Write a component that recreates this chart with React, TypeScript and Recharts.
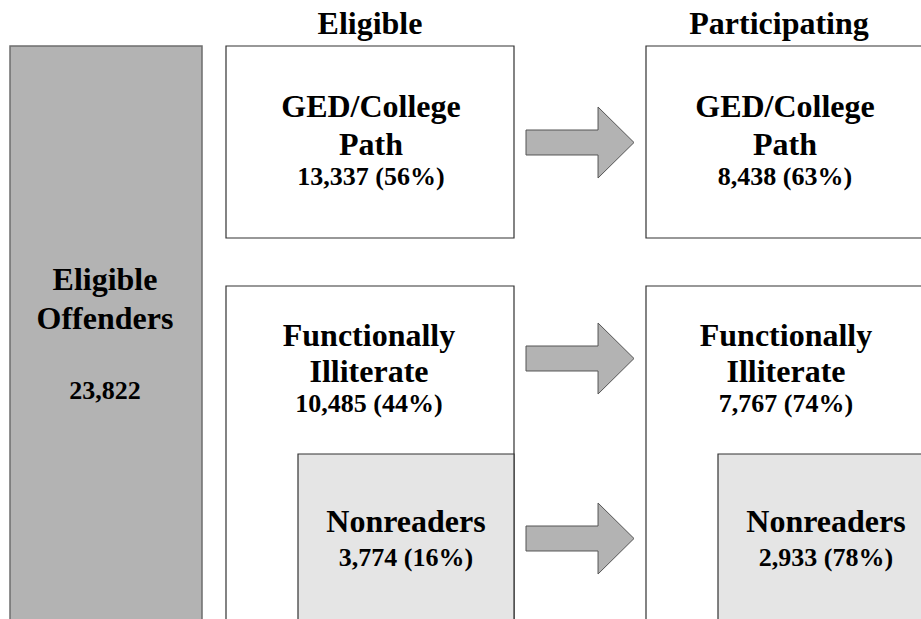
import { ComposedChart, XAxis, YAxis, ReferenceArea, Scatter } from 'recharts';

const W = 921;
const H = 619;

// values shown in the diagram
const stages = ['Eligible', 'Participating'];
const totalTitle = ['Eligible', 'Offenders'];
const totalOffenders = 23822;
const groupTitles = [['GED/College', 'Path'], ['Functionally', 'Illiterate'], ['Nonreaders']];
const eligibleCounts = [13337, 10485, 3774];
const eligibleShares = [56, 44, 16];
const participatingCounts = [8438, 7767, 2933];
const participatingShares = [63, 74, 78];

// layout, in diagram units (1 unit = 1px, y grows downward)
const totalBox = { x1: 10, x2: 202, y1: 46, y2: 660 };
const columnX = [[226, 514], [646, 940]];
const groupY = [[46, 238], [286, 660], [454, 660]];
const nonreaderInset = 72;
const arrowX = [526, 634];
const arrowY = [[107, 178], [323, 394], [503, 574]];
const headerY = 23;
const headerX = [370, 779];
const groupCenterX = [[371, 785], [369, 786], [406, 826]];
const titleRowsY = [[106, 143.5], [335, 371], [521]];
const numberRowY = [176.5, 403, 557];
const totalTextX = 105;
const totalTextY = [279, 317.5, 390.5];
const titleSize = 32;
const numberSize = 26;

const fmt = (n: number) => n.toLocaleString('en-US');

type TextItem = { x: number; y: number; text: string; size: number };

const texts: TextItem[] = [];
stages.forEach((s, i) => texts.push({ x: headerX[i], y: headerY, text: s, size: titleSize }));
totalTitle.forEach((t, i) => texts.push({ x: totalTextX, y: totalTextY[i], text: t, size: titleSize }));
texts.push({ x: totalTextX, y: totalTextY[2], text: fmt(totalOffenders), size: numberSize });
[
  [eligibleCounts, eligibleShares],
  [participatingCounts, participatingShares],
].forEach(([counts, shares], c) => {
  groupTitles.forEach((lines, g) => {
    lines.forEach((t, k) => texts.push({ x: groupCenterX[g][c], y: titleRowsY[g][k], text: t, size: titleSize }));
    texts.push({ x: groupCenterX[g][c], y: numberRowY[g], text: `${fmt(counts[g])} (${shares[g]}%)`, size: numberSize });
  });
});

const boxes = columnX.flatMap(([x1, x2]) =>
  groupY.map(([y1, y2], g) => ({
    x1: g === 2 ? x1 + nonreaderInset : x1,
    x2,
    y1,
    y2,
    fill: g === 2 ? '#e5e5e5' : '#ffffff',
  }))
);

const TextShape = (p: any) => (
  <text
    x={p.cx}
    y={p.cy}
    textAnchor="middle"
    dominantBaseline="central"
    style={{ fontFamily: '"Liberation Serif", "Times New Roman", serif', fontWeight: 700 }}
    fontSize={p.payload.size}
    fill="#000"
  >
    {p.payload.text}
  </text>
);

const ArrowShape = (p: any) => {
  const { x, y, width: w, height: h } = p;
  const s1 = y + h * 0.324;
  const s2 = y + h * 0.676;
  const hx = x + w * 0.667;
  const pts = [
    [x, s1], [hx, s1], [hx, y], [x + w, y + h / 2], [hx, y + h], [hx, s2], [x, s2],
  ];
  return <polygon points={pts.map((q) => q.join(',')).join(' ')} fill="#b3b3b3" stroke="#555555" strokeWidth={1} />;
};

export default function App() {
  return (
    <div style={{ position: 'fixed', top: 0, left: 0, width: W, height: H, background: '#fff' }}>
      <ComposedChart width={W} height={H} margin={{ top: 0, right: 0, bottom: 0, left: 0 }}>
        <XAxis type="number" dataKey="x" domain={[0, W]} hide allowDataOverflow />
        <YAxis type="number" dataKey="y" domain={[0, H]} reversed hide allowDataOverflow />
        <ReferenceArea
          x1={totalBox.x1} x2={totalBox.x2} y1={totalBox.y1} y2={totalBox.y2}
          fill="#b3b3b3" fillOpacity={1} stroke="#6e6e6e" strokeWidth={1.5} ifOverflow="visible"
        />
        {boxes.map((b, i) => (
          <ReferenceArea
            key={i}
            x1={b.x1} x2={b.x2} y1={b.y1} y2={b.y2}
            fill={b.fill} fillOpacity={1} stroke="#333333" strokeWidth={1.2} ifOverflow="visible"
          />
        ))}
        {arrowY.map(([y1, y2], i) => (
          <ReferenceArea
            key={`a${i}`}
            x1={arrowX[0]} x2={arrowX[1]} y1={y1} y2={y2}
            ifOverflow="visible" shape={ArrowShape}
          />
        ))}
        <Scatter data={texts} dataKey="y" shape={TextShape} isAnimationActive={false} />
      </ComposedChart>
    </div>
  );
}
